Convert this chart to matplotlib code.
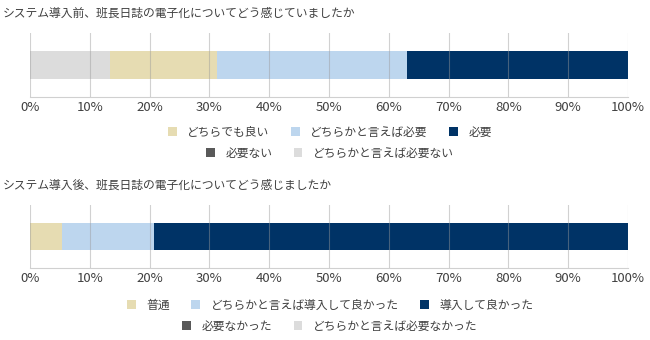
import numpy as np
import matplotlib
matplotlib.use('Agg')
import matplotlib.pyplot as plt
from matplotlib.patches import Patch

plt.rcParams['font.family'] = ['Noto Sans CJK JP', 'DejaVu Sans']

TXT = '#404040'

# 導入前
before_title = 'システム導入前、班長日誌の電子化についてどう感じていましたか'
before_labels = ['どちらでも良い', 'どちらかと言えば必要', '必要', '必要ない', 'どちらかと言えば必要ない']
before_values = [17.9, 31.8, 37.0, 0.0, 13.3]

# 導入後
after_title = 'システム導入後、班長日誌の電子化についてどう感じましたか'
after_labels = ['普通', 'どちらかと言えば導入して良かった', '導入して良かった', '必要なかった', 'どちらかと言えば必要なかった']
after_values = [5.3, 15.5, 79.2, 0.0, 0.0]

colors = ['#e6dcb2', '#bdd6ee', '#003366', '#595959', '#dcdcdc']
# stacking order left -> right (indices into the lists above)
stack_order = [3, 4, 0, 1, 2]

fig = plt.figure(figsize=(6.5, 3.4), dpi=100)


def draw(ax_rect, title, title_y, labels, values, leg_y1, leg_y2):
    ax = fig.add_axes(ax_rect)
    left = 0.0
    for i in stack_order:
        ax.barh(0, values[i], left=left, height=0.44, color=colors[i], zorder=1)
        left += values[i]
    ax.set_xlim(0, 100)
    ax.set_ylim(-0.5, 0.5)
    ax.set_yticks([])
    ax.set_xticks(np.arange(0, 101, 10))
    ax.set_xticklabels([f'{t}%' for t in range(0, 101, 10)], fontsize=9.5, color=TXT)
    ax.tick_params(axis='x', length=0, pad=3)
    for t in range(0, 101, 10):
        ax.axvline(t, color='#9a9a9a', alpha=0.45, lw=0.8, zorder=3)
    for s in ['top', 'left', 'right']:
        ax.spines[s].set_visible(False)
    ax.spines['bottom'].set_color('#d0d0d0')
    fig.text(3 / 650, title_y, title, fontsize=8.5, color=TXT, va='center', ha='left')

    handles = [Patch(facecolor=c, edgecolor='none') for c in colors]
    kw = dict(frameon=False, fontsize=8.5, handlelength=0.75, handleheight=0.75,
              handletextpad=0.9, columnspacing=1.8, borderpad=0, labelcolor=TXT)
    fig.legend(handles[:3], labels[:3], ncol=3, loc='center',
               bbox_to_anchor=(330 / 650, leg_y1), **kw)
    fig.legend(handles[3:], labels[3:], ncol=2, loc='center',
               bbox_to_anchor=(330 / 650, leg_y2), **kw)
    return ax


draw([30 / 650, 1 - 97 / 340, 598 / 650, 64 / 340], before_title, 1 - 13 / 340,
     before_labels, before_values, 1 - 132 / 340, 1 - 153 / 340)
draw([30 / 650, 1 - 268 / 340, 598 / 650, 63 / 340], after_title, 1 - 185 / 340,
     after_labels, after_values, 1 - 305 / 340, 1 - 326 / 340)

fig.savefig('out.png', dpi=100)
